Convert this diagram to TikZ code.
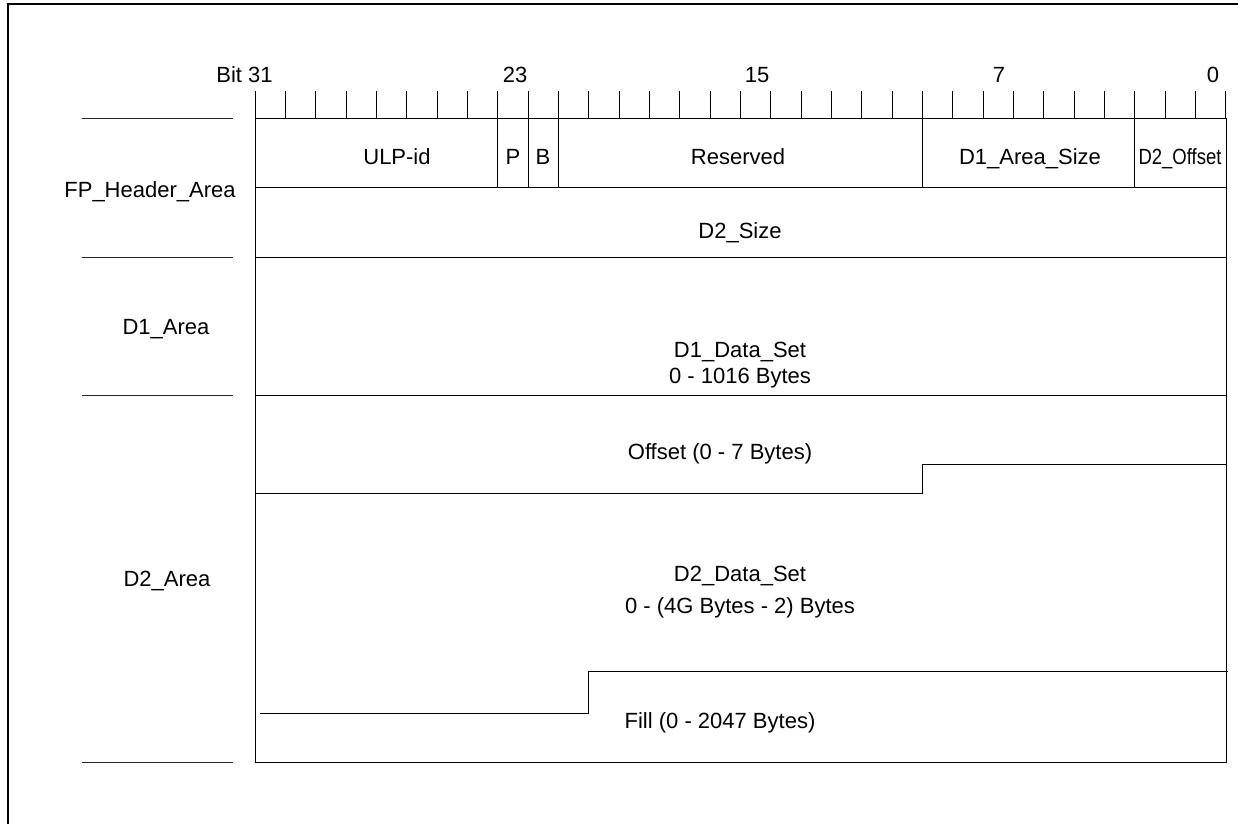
\documentclass[tikz,border=0pt]{standalone}
\usepackage{fontspec}
\setmainfont{Liberation Sans}
\usetikzlibrary{positioning}
\newcommand\BitW{30.34}

\begin{document}
\begin{tikzpicture}[x=0.5pt, y=-0.5pt, font=\fontsize{11}{13}\selectfont,
    frame/.style={line width=1pt},
    rule/.style={line width=0.5pt},
    side/.style={line width=0.5pt, black!85},
    lbl/.style={inner sep=0pt, anchor=base, align=center}]
  \useasboundingbox (0,0) rectangle (1238,824);
  % outer frame (cut at right and bottom)
  \draw[frame] (8,824) -- (8,4) -- (1238,4);
  % bit ruler
  \foreach \i in {0,1,...,32}{
    \draw[rule] ({255+\i*\BitW},91) -- ({255+\i*\BitW},119);
  }
  \node[lbl, anchor=base east] (b31) at (273,83) {Bit 31};
  \node[lbl] (b23) at (515,83) {23};
  \node[lbl] (b15) at (757,83) {15};
  \node[lbl] (b7) at (999,83) {7};
  \node[lbl] (b0) at (1213,83) {0};
  % frame of the areas
  \draw[rule] (255,119) rectangle (1226,762);
  \foreach \y in {188,257,395}{
    \draw[rule] (255,\y) -- (1226,\y);
  }
  % header fields
  \foreach \i in {8,9,10,22,29}{
    \draw[rule] ({255+\i*\BitW},119) -- ({255+\i*\BitW},188);
  }
  \node[lbl] (ulp) at (397,165) {ULP-id};
  \node[lbl] (pbit) at (513,165) {P};
  \node[lbl] (bbit) at (543,165) {B};
  \node[lbl] (resv) at (738,165) {Reserved};
  \node[lbl] (d1size) at (1030,165) {D1\_Area\_Size};
  \node[lbl] (d2off) at (1180,165) {\scalebox{0.84}[1]{D2\_Offset}};
  \node[lbl] (d2size) at (740,239) {D2\_Size};
  % D1 area
  \node[lbl] (d1set) at (740,383) {D1\_Data\_Set\\0 - 1016 Bytes};
  % D2 area
  \draw[rule] (255,493) -- ({255+22*\BitW},493) -- ({255+22*\BitW},464) -- (1226,464);
  \node[lbl] (offs) at (720,459) {Offset (0 - 7 Bytes)};
  \node[lbl] (d2set) at (740,613) {D2\_Data\_Set\\[3pt]0 - (4G Bytes - 2) Bytes};
  \draw[rule] (260,713) -- ({255+11*\BitW},713) -- ({255+11*\BitW},671) -- (1228,671);
  \node[lbl] (fill) at (720,728) {Fill (0 - 2047 Bytes)};
  % area names on the left
  \foreach \y in {119,257,395,762}{
    \draw[side] (82,\y) -- (233,\y);
  }
  \node[lbl] (fph) at (150,198) {FP\_Header\_Area};
  \node[lbl] (d1a) at (166,334) {D1\_Area};
  \node[lbl] (d2a) at (167,586) {D2\_Area};
\end{tikzpicture}
\end{document}
